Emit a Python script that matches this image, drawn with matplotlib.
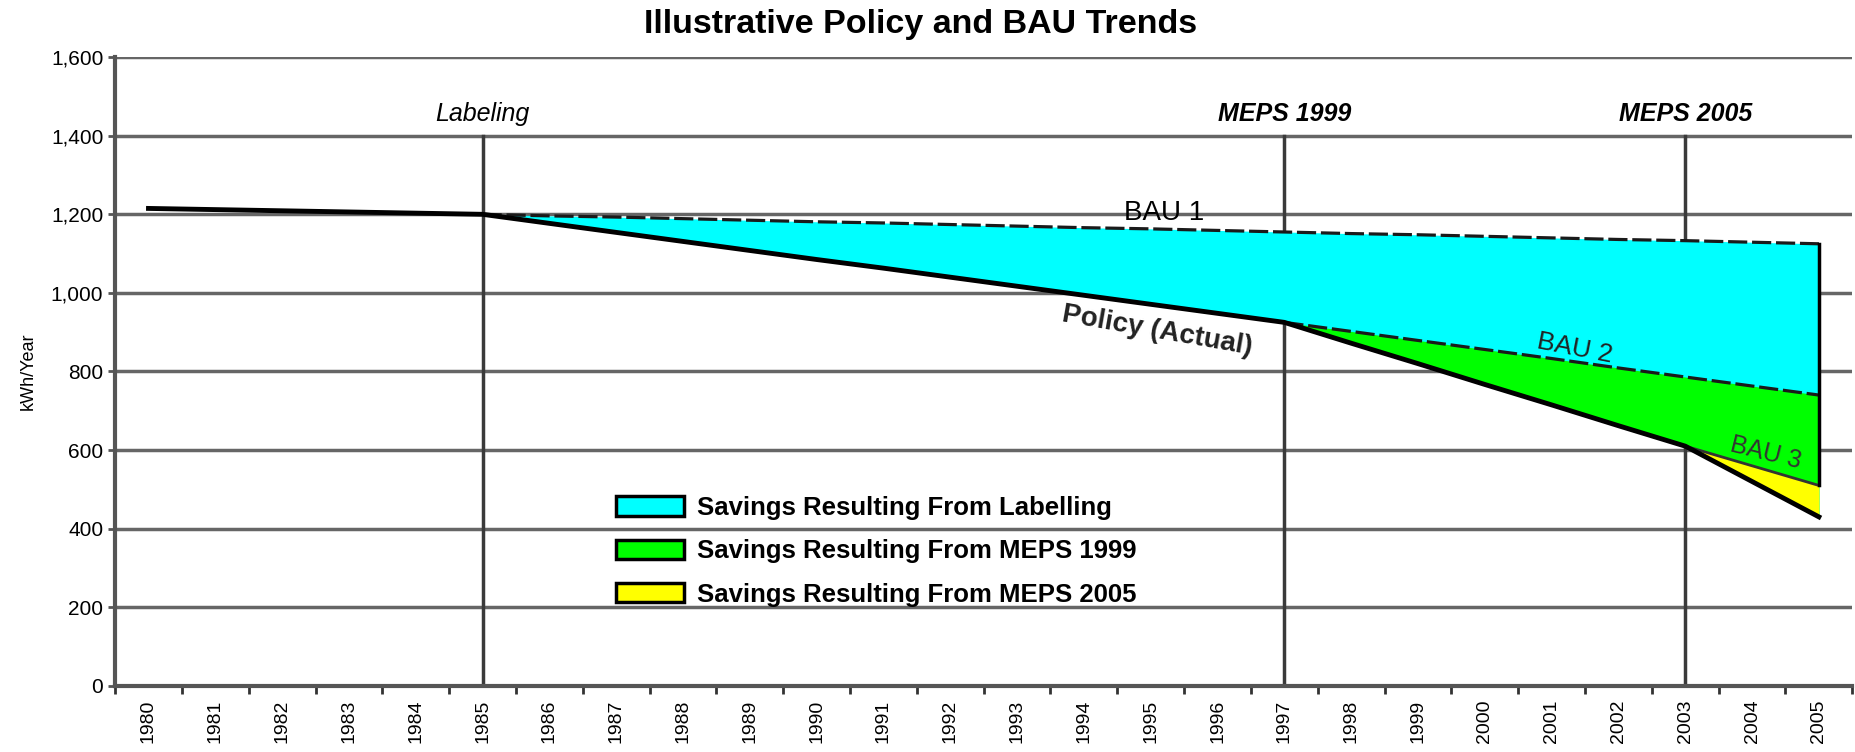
import matplotlib
matplotlib.use("Agg")
import matplotlib.pyplot as plt
import matplotlib.patches as patches
import numpy as np
from matplotlib.ticker import FuncFormatter, MultipleLocator

plt.rcParams['font.family'] = ['Liberation Sans', 'DejaVu Sans']

# --- data ---
years = list(range(1980, 2006))
bau1 = [1215, 1212, 1209, 1206, 1203, 1200, 1196, 1193, 1189, 1185, 1181, 1178, 1174,
        1170, 1166, 1163, 1159, 1155, 1151, 1148, 1144, 1140, 1136, 1133, 1129, 1125]
policy = [1215, 1212, 1209, 1206, 1203, 1200, 1177, 1154, 1131, 1108, 1085, 1063, 1040,
          1017, 994, 971, 948, 925, 872, 820, 767, 715, 662, 610, 520, 430]
bau2_years = [1997, 1998, 1999, 2000, 2001, 2002, 2003, 2004, 2005]
bau2 = [925, 902, 879, 856, 833, 809, 786, 763, 740]
bau3_years = [2003, 2004, 2005]
bau3 = [610, 560, 510]

policy_years = [1985, 1997, 2003]
policy_names = ['Labeling', 'MEPS 1999', 'MEPS 2005']

legend_labels = ['Savings Resulting From Labelling',
                 'Savings Resulting From MEPS 1999',
                 'Savings Resulting From MEPS 2005']
legend_colors = ['#00ffff', '#00ff00', '#ffff00']

fig = plt.figure(figsize=(18.56, 7.52), dpi=100)
ax = fig.add_axes([0.062, 0.088, 0.936, 0.836])

yrs = np.array(years)
pol = np.array(policy)
b1 = np.array(bau1)
after = yrs >= 1985

# --- fills (stacked on top of one another) ---
ax.fill_between(yrs[after], pol[after], b1[after], color=legend_colors[0], lw=0, zorder=2)
pol2 = pol[yrs >= 1997]
ax.fill_between(bau2_years, pol2, bau2, color=legend_colors[1], lw=0, zorder=3)
pol3 = pol[yrs >= 2003]
ax.fill_between(bau3_years, pol3, bau3, color=legend_colors[2], lw=0, zorder=4)

# --- lines ---
ax.plot(yrs[after], b1[after], color='#1a1a1a', lw=2.3, ls=(0, (6, 1.5)), zorder=5)
ax.plot(bau2_years, bau2, color='#1a1a1a', lw=2.3, ls=(0, (6, 1.5)), zorder=5)
ax.plot(bau3_years, bau3, color='#333333', lw=2, zorder=5)
ax.plot(yrs, pol, color='black', lw=3.5, zorder=6)
ax.plot([2005, 2005], [bau3[-1], bau1[-1]], color='black', lw=2.5, zorder=6)

# --- policy marker lines ---
for yr, name in zip(policy_years, policy_names):
    ax.plot([yr, yr], [0, 1400], color='#3a3a3a', lw=2.5, zorder=1)
    ax.text(yr, 1425, name, ha='center', va='bottom', fontsize=18,
            style='italic', fontweight='bold' if 'MEPS' in name else 'normal')

# --- curve labels ---
ax.text(1995.2, 1203, 'BAU 1', ha='center', va='center', fontsize=20, zorder=7)
ax.text(1995.1, 903, 'Policy (Actual)', ha='center', va='center', fontsize=20,
        fontweight='bold', color='#222222', rotation=-10, zorder=7)
ax.text(2001.35, 858, 'BAU 2', ha='center', va='center', fontsize=19,
        color='#222222', rotation=-11, zorder=7)
ax.text(2004.2, 592, 'BAU 3', ha='center', va='center', fontsize=18,
        color='#333333', rotation=-14, zorder=7)

# --- legend ---
handles = [patches.Patch(facecolor=c, edgecolor='black', linewidth=2.5) for c in legend_colors]
ax.legend(handles, legend_labels, loc='center left', bbox_to_anchor=(0.275, 0.214),
          frameon=False, prop={'weight': 'bold', 'size': 18.5},
          handlelength=2.65, handleheight=0.8, labelspacing=0.75, handletextpad=0.5)

# --- axes styling ---
ax.set_xlim(1979.5, 2005.5)
ax.set_ylim(0, 1600)
ax.set_xticks(years)
ax.set_xticklabels([str(y) for y in years], rotation=90, fontsize=14)
ax.xaxis.set_minor_locator(MultipleLocator(1, offset=0.5))
ax.tick_params(axis='x', which='major', length=0, pad=10)
ax.tick_params(axis='x', which='minor', length=6, width=2, color='#333333')
ax.set_yticks(range(0, 1601, 200))
ax.yaxis.set_major_formatter(FuncFormatter(lambda v, p: f'{int(v):,}'))
ax.tick_params(axis='y', length=5, width=2, color='#555555', labelsize=15)
ax.set_ylabel('kWh/Year', fontsize=13, labelpad=10)

ax.grid(axis='y', color='#666666', lw=2.5, zorder=0)
ax.set_axisbelow(True)
for s in ['top', 'right']:
    ax.spines[s].set_visible(False)
for s in ['left', 'bottom']:
    ax.spines[s].set_color('#555555')
    ax.spines[s].set_linewidth(3)

fig.text(0.496, 0.968, 'Illustrative Policy and BAU Trends', ha='center', va='center',
         fontsize=24.5, fontweight='bold')

fig.savefig('out.png', dpi=100)
